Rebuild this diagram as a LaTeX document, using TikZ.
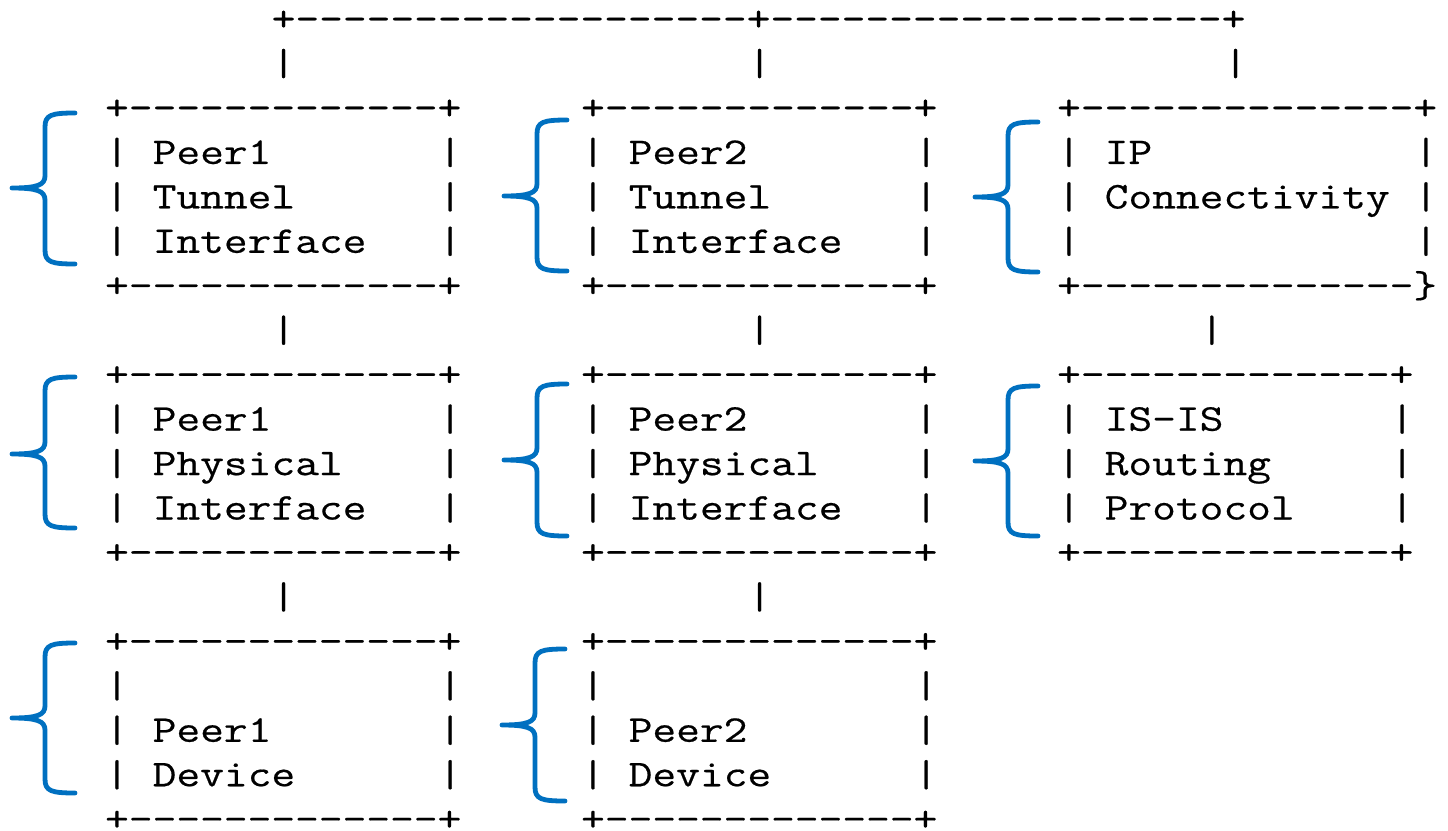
\documentclass[tikz,border=0pt]{standalone}
\usepackage{fontspec}
\setmonofont{Latin Modern Mono}[FakeStretch=1.22, FakeBold=0.5]
\usepackage{tikz}
\definecolor{braceblue}{RGB}{0,112,192}
\tikzset{
  ascii/.style={anchor=base west, inner sep=0pt, outer sep=0pt,
                font=\ttfamily\fontsize{18.9pt}{22pt}\selectfont},
  bracket/.style={draw=braceblue, line width=2.4pt,
                  line cap=round, line join=round},
}
\newcommand{\rulenarrow}{+-------------+}
\newcommand{\rulewide}{+--------------+}
% curly bracket: stem x, top y, tip y, bottom y
\newcommand{\leftbrace}[4]{%
  \draw[bracket] (#1+30,#2) .. controls (#1+6,#2) and (#1,#2+2) .. (#1,#2+14)
    -- (#1,#3-12) .. controls (#1,#3-3) and (#1-8,#3) .. (#1-33,#3)
    .. controls (#1-8,#3) and (#1,#3+3) .. (#1,#3+12)
    -- (#1,#4-14) .. controls (#1,#4-2) and (#1+6,#4) .. (#1+30,#4);}

\begin{document}
\begin{tikzpicture}[x=0.5pt, y=-0.5pt]
  \useasboundingbox (0,0) rectangle (1448,831);
  %% character grid: one unit = one column / one text line
  \begin{scope}[shift={(52.55pt,-15.3pt)}, x=11.9pt, y=-22.225pt]
    %% top bus and drops
    \node[ascii] (bus) at (7,0) {+-------------------+-------------------+};
    \foreach \cx [count=\i] in {7,27,47}
      \node[ascii] (drop\i) at (\cx,1) {|};
    %% frames of the ordinary boxes
    \foreach \nm/\cx/\ry/\rx in {p1tun/0/2/14, p2tun/20/2/34,
        p1phy/0/8/14, p2phy/20/8/34, isis/40/8/54,
        p1dev/0/14/14, p2dev/20/14/34} {
      \node[ascii] (\nm-top) at (\cx,\ry) {\rulenarrow};
      \node[ascii] (\nm-bot) at (\cx,\ry+4) {\rulenarrow};
      \foreach \k in {1,2,3} {
        \node[ascii] (\nm-l\k) at (\cx,\ry+\k) {|};
        \node[ascii] (\nm-r\k) at (\rx,\ry+\k) {|};
      }
    }
    %% IP box is one column wider
    \node[ascii] (ipc-top) at (40,2) {\rulewide};
    \node[ascii] (ipc-bot) at (40,6) {+--------------\}};
    \foreach \k in {1,2,3} {
      \node[ascii] (ipc-l\k) at (40,2+\k) {|};
      \node[ascii] (ipc-r\k) at (55,2+\k) {|};
    }
    %% drops between the tiers
    \node[ascii] (drop4) at (7,7) {|};
    \node[ascii] (drop5) at (27,7) {|};
    \node[ascii] (drop6) at (46,7) {|};
    \node[ascii] (drop7) at (7,13) {|};
    \node[ascii] (drop8) at (27,13) {|};
    %% labels
    \node[ascii] (p1tun-a) at (2,3) {Peer1};
    \node[ascii] (p1tun-b) at (2,4) {Tunnel};
    \node[ascii] (p1tun-c) at (2,5) {Interface};
    \node[ascii] (p2tun-a) at (22,3) {Peer2};
    \node[ascii] (p2tun-b) at (22,4) {Tunnel};
    \node[ascii] (p2tun-c) at (22,5) {Interface};
    \node[ascii] (ipc-a) at (42,3) {IP};
    \node[ascii] (ipc-b) at (42,4) {Connectivity};
    \node[ascii] (p1phy-a) at (2,9) {Peer1};
    \node[ascii] (p1phy-b) at (2,10) {Physical};
    \node[ascii] (p1phy-c) at (2,11) {Interface};
    \node[ascii] (p2phy-a) at (22,9) {Peer2};
    \node[ascii] (p2phy-b) at (22,10) {Physical};
    \node[ascii] (p2phy-c) at (22,11) {Interface};
    \node[ascii] (isis-a) at (42,9) {IS-IS};
    \node[ascii] (isis-b) at (42,10) {Routing};
    \node[ascii] (isis-c) at (42,11) {Protocol};
    \node[ascii] (p1dev-a) at (2,16) {Peer1};
    \node[ascii] (p1dev-b) at (2,17) {Device};
    \node[ascii] (p2dev-a) at (22,16) {Peer2};
    \node[ascii] (p2dev-b) at (22,17) {Device};
  \end{scope}
  %% blue brackets in front of the boxes
  \leftbrace{45}{113}{188}{264}
  \leftbrace{537}{120}{196}{271}
  \leftbrace{1008}{122}{197}{272}
  \leftbrace{45}{377}{454}{528}
  \leftbrace{537}{384}{460}{536}
  \leftbrace{1008}{386}{461}{536}
  \leftbrace{45}{643}{718}{793}
  \leftbrace{535}{649}{725}{801}
\end{tikzpicture}
\end{document}
